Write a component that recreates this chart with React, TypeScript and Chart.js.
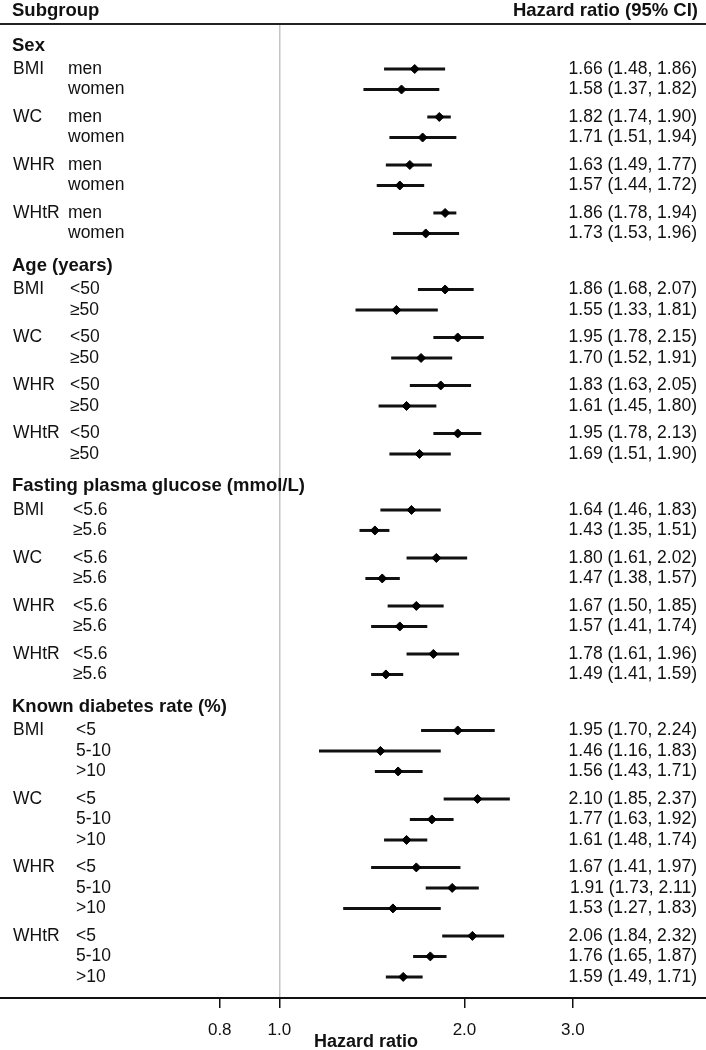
import React, { useEffect, useRef } from 'react';
import { Chart, registerables } from 'chart.js';

Chart.register(...registerables);

// ---------- DATA ----------
const sectionTitles = [
  'Sex',
  'Age (years)',
  'Fasting plasma glucose (mmol/L)',
  'Known diabetes rate (%)',
];
const measures = ['BMI', 'WC', 'WHR', 'WHtR'];

const sexLevels = ['men', 'women'];
const ageLevels = ['<50', '≥50'];
const fpgLevels = ['<5.6', '≥5.6'];
const kdrLevels = ['<5', '5-10', '>10'];

// values ordered measure by measure (BMI, WC, WHR, WHtR), levels inside
const sexHR = [1.66, 1.58, 1.82, 1.71, 1.63, 1.57, 1.86, 1.73];
const sexLo = [1.48, 1.37, 1.74, 1.51, 1.49, 1.44, 1.78, 1.53];
const sexHi = [1.86, 1.82, 1.90, 1.94, 1.77, 1.72, 1.94, 1.96];

const ageHR = [1.86, 1.55, 1.95, 1.70, 1.83, 1.61, 1.95, 1.69];
const ageLo = [1.68, 1.33, 1.78, 1.52, 1.63, 1.45, 1.78, 1.51];
const ageHi = [2.07, 1.81, 2.15, 1.91, 2.05, 1.80, 2.13, 1.90];

const fpgHR = [1.64, 1.43, 1.80, 1.47, 1.67, 1.57, 1.78, 1.49];
const fpgLo = [1.46, 1.35, 1.61, 1.38, 1.50, 1.41, 1.61, 1.41];
const fpgHi = [1.83, 1.51, 2.02, 1.57, 1.85, 1.74, 1.96, 1.59];

const kdrHR = [1.95, 1.46, 1.56, 2.10, 1.77, 1.61, 1.67, 1.91, 1.53, 2.06, 1.76, 1.59];
const kdrLo = [1.70, 1.16, 1.43, 1.85, 1.63, 1.48, 1.41, 1.73, 1.27, 1.84, 1.65, 1.49];
const kdrHi = [2.24, 1.83, 1.71, 2.37, 1.92, 1.74, 1.97, 2.11, 1.83, 2.32, 1.87, 1.71];

const tickValues = [0.8, 1.0, 2.0, 3.0];
const refValue = 1.0;

const headerLeft = 'Subgroup';
const headerRight = 'Hazard ratio (95% CI)';
const axisTitle = 'Hazard ratio';

// ---------- LAYOUT (row spacing in row units) ----------
const STEP_ROW = 1;
const STEP_GROUP = 1.341;
const STEP_SECTION = 2.732;
const HEADER_LEAD = 1.15;

const sectionLevels = [sexLevels, ageLevels, fpgLevels, kdrLevels];
const sectionHR = [sexHR, ageHR, fpgHR, kdrHR];
const sectionLo = [sexLo, ageLo, fpgLo, kdrLo];
const sectionHi = [sexHi, ageHi, fpgHi, kdrHi];
const levelLabelX = [68, 70, 73, 76];

type Row = {
  pos: number;
  hr: number;
  lo: number;
  hi: number;
  measure: string | null;
  level: string;
  section: number;
};

function buildRows() {
  const rows: Row[] = [];
  const headers: { title: string; pos: number }[] = [];
  let pos = 0;
  sectionTitles.forEach((title, s) => {
    if (s > 0) pos += STEP_SECTION;
    headers.push({ title, pos: pos - HEADER_LEAD });
    const levels = sectionLevels[s];
    let k = 0;
    measures.forEach((m, mi) => {
      if (mi > 0) pos += STEP_GROUP;
      levels.forEach((lv, li) => {
        if (li > 0) pos += STEP_ROW;
        rows.push({
          pos,
          hr: sectionHR[s][k],
          lo: sectionLo[s][k],
          hi: sectionHi[s][k],
          measure: li === 0 ? m : null,
          level: lv,
          section: s,
        });
        k++;
      });
    });
  });
  return { rows, headers };
}

const FONT = '"Liberation Sans", Arial, Helvetica, sans-serif';

export default function App() {
  const ref = useRef<HTMLCanvasElement | null>(null);

  useEffect(() => {
    document.body.style.margin = '0';
    const canvas = ref.current;
    if (!canvas) return;
    const { rows, headers } = buildRows();

    const textPlugin = {
      id: 'forestText',
      afterDraw(chart: any) {
        const ctx = chart.ctx as CanvasRenderingContext2D;
        const y = chart.scales.y;
        const W = chart.width;
        ctx.save();
        ctx.fillStyle = '#111';
        ctx.textBaseline = 'middle';

        // column headers
        ctx.font = `bold 18.5px ${FONT}`;
        ctx.textAlign = 'left';
        ctx.fillText(headerLeft, 12, 11);
        ctx.textAlign = 'right';
        ctx.fillText(headerRight, 698, 11);

        ctx.strokeStyle = '#222';
        ctx.lineWidth = 2;
        ctx.beginPath();
        ctx.moveTo(0, 24);
        ctx.lineTo(W, 24);
        ctx.stroke();

        // section headers
        ctx.textAlign = 'left';
        ctx.font = `bold 18.5px ${FONT}`;
        headers.forEach((h) => {
          ctx.fillText(h.title, 12, y.getPixelForValue(h.pos));
        });

        // rows
        ctx.font = `17.5px ${FONT}`;
        rows.forEach((r) => {
          const py = y.getPixelForValue(r.pos);
          ctx.textAlign = 'left';
          if (r.measure) ctx.fillText(r.measure, 13, py);
          ctx.fillText(r.level, levelLabelX[r.section], py);
          ctx.textAlign = 'right';
          ctx.fillText(
            `${r.hr.toFixed(2)} (${r.lo.toFixed(2)}, ${r.hi.toFixed(2)})`,
            697,
            py
          );
        });

        // axis title
        ctx.font = `bold 18px ${FONT}`;
        ctx.textAlign = 'center';
        ctx.fillText(axisTitle, 366, 1042);
        ctx.restore();
      },
    };

    const ciDatasets = rows.map((r) => ({
      type: 'line' as const,
      data: [
        { x: r.lo, y: r.pos },
        { x: r.hi, y: r.pos },
      ],
      borderColor: '#111',
      borderWidth: 3,
      pointRadius: 0,
      fill: false,
      showLine: true,
    }));

    const chart = new Chart(canvas, {
      type: 'scatter',
      data: {
        datasets: [
          {
            type: 'scatter',
            data: rows.map((r) => ({ x: r.hr, y: r.pos })),
            pointStyle: 'rectRot',
            radius: 4.5,
            backgroundColor: '#000',
            borderColor: '#000',
            borderWidth: 1,
          } as any,
          ...ciDatasets,
        ],
      },
      options: {
        animation: false,
        responsive: false,
        devicePixelRatio: 1,
        layout: { autoPadding: false, padding: { top: 25, left: 0, right: 0, bottom: 0 } },
        plugins: {
          legend: { display: false },
          tooltip: { enabled: false },
        },
        scales: {
          x: {
            type: 'logarithmic',
            position: 'bottom',
            min: 0.3514,
            max: 4.94,
            afterBuildTicks: (scale: any) => {
              scale.ticks = tickValues.map((v) => ({ value: v }));
            },
            afterFit: (scale: any) => {
              scale.height = 52;
            },
            ticks: {
              callback: (v: any) => Number(v).toFixed(1),
              font: { family: FONT, size: 17 },
              color: '#111',
              padding: 12,
              maxRotation: 0,
              autoSkip: false,
            },
            grid: {
              drawOnChartArea: true,
              drawTicks: true,
              tickLength: 10,
              tickWidth: 1.5,
              tickColor: '#111',
              color: (c: any) =>
                c.tick && c.tick.value === refValue ? '#c4c4c4' : 'rgba(0,0,0,0)',
              lineWidth: 1.5,
            },
            border: { display: true, color: '#111', width: 2 },
          },
          y: {
            type: 'linear',
            display: false,
            reverse: true,
            min: -2.146,
            max: 45.317,
          },
        },
      },
      plugins: [textPlugin],
    } as any);

    return () => chart.destroy();
  }, []);

  return (
    <canvas
      ref={ref}
      width={706}
      height={1050}
      style={{ display: 'block', width: 706, height: 1050 }}
    />
  );
}
